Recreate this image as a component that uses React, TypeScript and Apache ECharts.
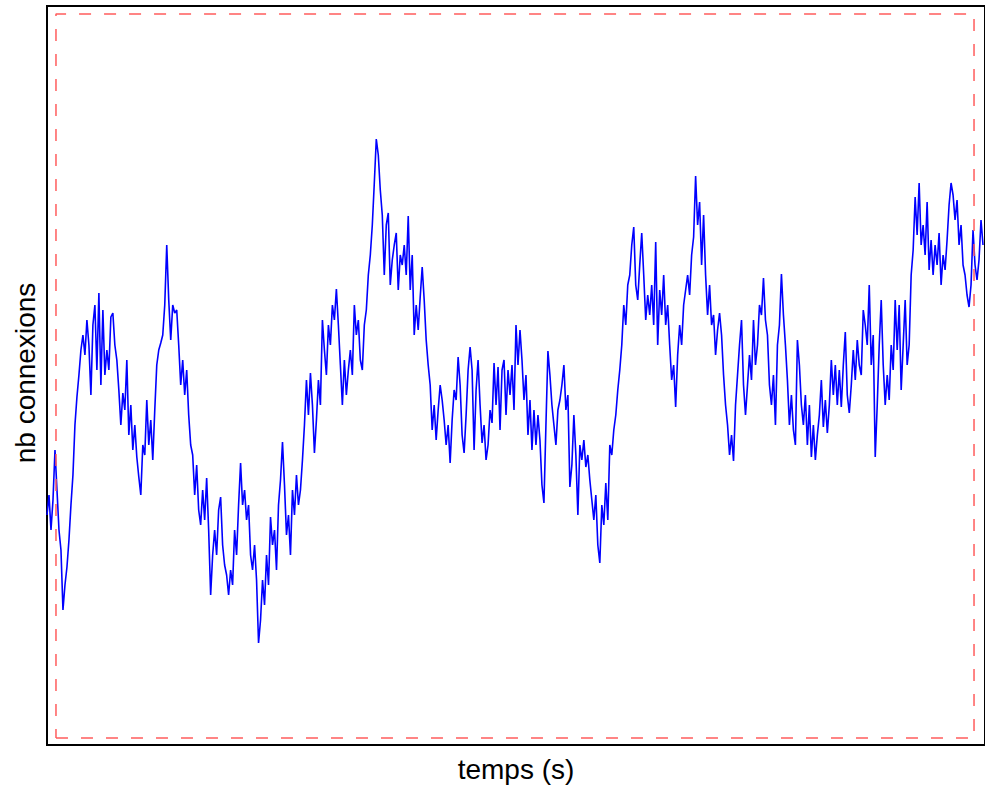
import React, { useEffect, useRef } from "react";
import * as echarts from "echarts";

const connexions: number[] = [
  230,250,215,245,295,255,215,195,135,160,
  178,205,240,270,320,348,370,395,410,390,
  425,400,350,420,440,375,452,360,435,370,
  395,375,428,432,400,385,355,320,352,335,
  385,310,340,295,320,288,268,250,300,290,
  345,300,325,285,335,380,395,402,410,440,
  500,445,405,440,432,435,400,360,385,350,
  375,330,300,290,250,280,235,
  220,255,225,267,215,150,190,215,190,235,
  248,200,180,170,150,175,160,215,190,240,
  282,240,255,225,240,190,175,200,165,102,
  125,165,140,190,160,228,200,215,175,240,
  265,303,260,210,230,190,255,230,270,240,
  255,285,320,365,330,372,340,292,325,365,
  340,425,395,370,420,400,440,425,456,420,
  380,340,385,350,375,395,370,
  440,410,425,385,375,420,435,470,490,520,
  562,606,590,555,530,470,520,532,460,485,
  500,512,455,490,480,500,470,529,455,490,
  410,440,415,448,478,445,405,380,360,315,
  340,305,335,360,345,325,300,320,282,325,
  355,345,388,360,310,292,330,375,398,375,
  295,355,385,340,302,320,285,300,335,322,
  382,340,378,315,375,385,330,375,
  350,380,335,420,380,415,385,345,370,310,
  345,295,335,300,330,305,260,242,320,394,
  370,340,320,300,335,345,360,380,335,350,
  258,280,330,290,230,300,285,305,278,290,
  265,245,225,250,200,182,240,220,262,225,
  300,290,315,330,355,375,400,440,420,460,
  470,500,518,460,445,480,512,470,425,450,
  430,460,420,503,400,455,430,470,
  420,440,400,365,380,338,390,420,400,440,
  455,470,450,490,508,569,520,543,480,530,
  470,430,460,420,430,390,415,432,410,370,
  340,320,290,310,284,340,370,400,425,360,
  330,360,390,365,425,380,400,440,430,467,
  425,410,360,340,370,320,400,420,471,430,
  400,365,320,350,315,300,405,380,340,320,
  350,300,340,288,320,285,310,
  330,365,318,345,312,340,385,350,380,340,
  375,338,380,413,350,332,360,395,365,405,
  380,370,435,420,400,460,380,410,288,340,
  400,445,380,340,370,345,400,375,445,395,
  440,355,400,445,380,400,470,495,548,510,
  562,500,520,490,543,475,505,470,500,480,
  512,460,490,475,505,540,562,550,525,545,
  500,520,480,470,450,438,460,515,480,465,
  485,525,500,
];
const tempsStep = 2;
const temps: number[] = connexions.map((_, i) => i * tempsStep);

// axis limits
const tempsRange = [0, 940];
const connexionsRange = [0, 739];

// dashed reference box (data coordinates)
const boxTemps = [9, 929];
const boxConnexions = [7, 731];

// labels
const xLabel = "temps (s)";
const yLabel = "nb connexions";

export default function App() {
  const ref = useRef<HTMLDivElement>(null);

  useEffect(() => {
    if (!ref.current) return;
    const chart = echarts.init(ref.current, undefined, { renderer: "svg" });
    const lineData = temps.map((t, i) => [t, connexions[i]]);
    const boxData = [
      [boxTemps[0], boxConnexions[0]],
      [boxTemps[1], boxConnexions[0]],
      [boxTemps[1], boxConnexions[1]],
      [boxTemps[0], boxConnexions[1]],
      [boxTemps[0], boxConnexions[0]],
    ];
    chart.setOption({
      animation: false,
      backgroundColor: "#ffffff",
      grid: {
        left: 47,
        right: -2,
        top: 6,
        bottom: 44,
        show: true,
        borderColor: "#000000",
        borderWidth: 2,
        backgroundColor: "transparent",
      },
      xAxis: {
        type: "value",
        min: tempsRange[0],
        max: tempsRange[1],
        axisLine: { show: false },
        axisTick: { show: false },
        axisLabel: { show: false },
        splitLine: { show: false },
      },
      yAxis: {
        type: "value",
        min: connexionsRange[0],
        max: connexionsRange[1],
        axisLine: { show: false },
        axisTick: { show: false },
        axisLabel: { show: false },
        splitLine: { show: false },
      },
      series: [
        {
          type: "line",
          data: lineData,
          showSymbol: false,
          symbol: "none",
          lineStyle: { color: "#0000ff", width: 1.6 },
          z: 2,
        },
        {
          type: "line",
          data: boxData,
          showSymbol: false,
          symbol: "none",
          lineStyle: { color: "#ff5c5c", width: 1.5, type: [12, 13] },
          z: 3,
          silent: true,
        },
      ],
      graphic: [
        {
          type: "text",
          x: 516,
          y: 769,
          style: {
            text: xLabel,
            fontFamily: "Liberation Sans, Arial, sans-serif",
            fontSize: 28,
            fill: "#000000",
            textAlign: "center",
            textVerticalAlign: "middle",
          },
        },
        {
          type: "text",
          x: 25,
          y: 373,
          rotation: Math.PI / 2,
          style: {
            text: yLabel,
            fontFamily: "Liberation Sans, Arial, sans-serif",
            fontSize: 28,
            fill: "#000000",
            textAlign: "center",
            textVerticalAlign: "middle",
          },
        },
      ],
    });
    return () => chart.dispose();
  }, []);

  return (
    <div
      ref={ref}
      style={{ position: "absolute", left: 0, top: 0, width: 985, height: 789 }}
    />
  );
}
